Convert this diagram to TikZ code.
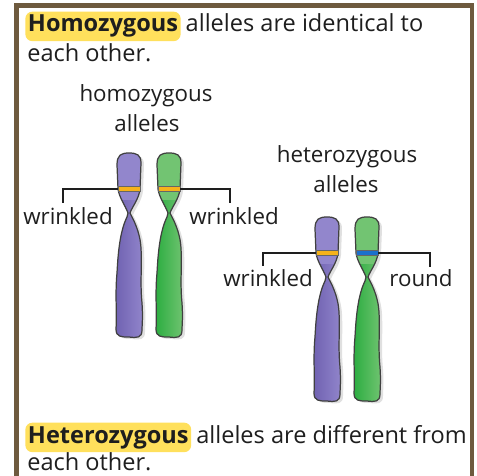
\documentclass[tikz,border=0pt]{standalone}
\usepackage{fontspec}
\setmainfont{Open Sans}
\usetikzlibrary{positioning}

\definecolor{framebrown}{RGB}{110,90,62}
\definecolor{hlyellow}{RGB}{255,224,92}
\definecolor{purpleL}{RGB}{146,134,204}
\definecolor{purpleD}{RGB}{110,96,176}
\definecolor{greenL}{RGB}{114,196,114}
\definecolor{greenD}{RGB}{40,172,62}
\definecolor{bandorange}{RGB}{246,178,26}
\definecolor{bandblue}{RGB}{28,112,204}
\definecolor{ink}{RGB}{30,30,30}

% outline of one chromosome: top at (0,0), y grows downwards
\def\chromopath{(-11,36) -- (-12,12) .. controls (-12,2) and (-8,0) .. (0,0)
  .. controls (8,0) and (12,2) .. (12,10) -- (11,36)
  .. controls (10,46) and (3,54) .. (1,60)
  .. controls (4,66) and (11,78) .. (12,95)
  .. controls (13,115) and (11,130) .. (13,150)
  .. controls (14,165) and (13,172) .. (13,177)
  .. controls (13,185) and (8,185) .. (0,184)
  .. controls (-8,184) and (-13,184) .. (-13,176)
  .. controls (-12,160) and (-14,140) .. (-12,120)
  .. controls (-11,100) and (-9,78) .. (-2,64)
  .. controls (-1,62) .. (-1,60)
  .. controls (-4,52) and (-10,44) .. (-11,36) -- cycle}

% \chromo{x}{top}{light}{dark}{band colour}{band name}
\newcommand{\chromo}[6]{%
  \begin{scope}[shift={(#1,#2)}]
    \fill[black, opacity=0.12, shift={(3,2)}] \chromopath;
    \fill[#3] \chromopath;
    \begin{scope}
      \clip \chromopath;
      \shade[left color=#4, right color=#3] (-15,48) rectangle (15,190);
    \end{scope}
    \draw[outline] \chromopath;
    \node[band, fill=#5] (#6) at (0,36) {};
  \end{scope}}

\begin{document}
\begin{tikzpicture}
  [x=0.2mm,y=-0.2mm,
   hdr/.style={font=\fontsize{13.4}{16}\selectfont, text=ink, inner sep=0pt, anchor=base west},
   hl/.style={hdr, font=\fontsize{13.4}{16}\selectfont\bfseries, fill=hlyellow,
     rounded corners=4pt, inner xsep=1.5pt, inner ysep=2pt},
   lbl/.style={font=\fontsize{12.7}{15}\selectfont, text=ink, inner sep=0pt, anchor=base},
   tick/.style={draw=ink, line width=1.1pt},
   outline/.style={draw=black!75, line width=0.7pt, line join=round},
   band/.style={rectangle, draw=black!60, line width=0.3pt, inner sep=0pt,
     minimum width=4.4mm, minimum height=1mm}]
\useasboundingbox (0,0) rectangle (477,476);

  % frame
  \fill[white] (16,5) rectangle (472,476);
  \draw[framebrown, line width=2.8pt] (16.5,476) |- (472,5.5) -- (472,476);

  % top sentence
  \node[hl] (homWord) at (25,32) {Homozygous};
  \node[hdr] (homRest) at ([xshift=2.5pt]homWord.base east) {alleles are identical to};
  \node[hdr] (homLine2) at (27,62) {each other.};

  % homozygous pair
  \node[lbl] (homTitle) at (146,102) {homozygous};
  \node[lbl] (homAlleles) at (147,132) {alleles};
  \chromo{129}{153}{purpleL}{purpleD}{bandorange}{homBandL}
  \chromo{169}{153}{greenL}{greenD}{bandorange}{homBandR}

  \node[lbl] (homWrinkL) at (68,225) {wrinkled};
  \node[lbl] (homWrinkR) at (234,225) {wrinkled};
  \coordinate (homTickL) at (63,203);
  \coordinate (homTickR) at (230,203);
  \draw[tick] (homBandL.west) -| (homTickL);
  \draw[tick] (homBandR.east) -| (homTickR);

  % heterozygous pair
  \node[lbl] (hetTitle) at (347,163) {heterozygous};
  \node[lbl] (hetAlleles) at (346,193) {alleles};
  \chromo{327}{217}{purpleL}{purpleD}{bandorange}{hetBandL}
  \chromo{367}{217}{greenL}{greenD}{bandblue}{hetBandR}

  \node[lbl] (hetWrink) at (268,287) {wrinkled};
  \node[lbl] (hetRound) at (421,287) {round};
  \coordinate (hetTickL) at (263,266);
  \coordinate (hetTickR) at (430,267);
  \draw[tick] (hetBandL.west) -| (hetTickL);
  \draw[tick] (hetBandR.east) -| (hetTickR);

  % bottom sentence
  \node[hl] (hetWord) at (25,443) {Heterozygous};
  \node[hdr] (hetRest) at ([xshift=2.5pt]hetWord.base east) {alleles are different from};
  \node[hdr] (hetLine2) at (27,470) {each other.};
\end{tikzpicture}
\end{document}
